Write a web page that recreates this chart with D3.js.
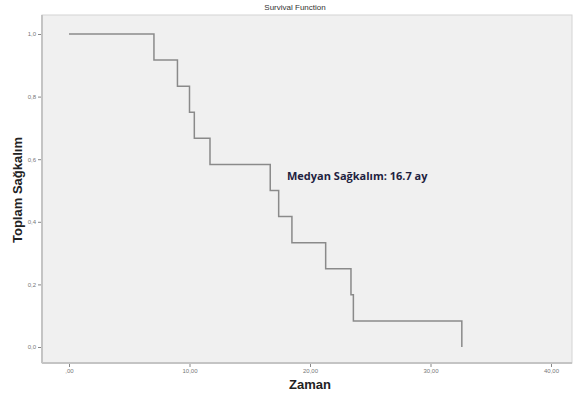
<!DOCTYPE html>
<html>
<head>
<meta charset="utf-8">
<script src="https://cdn.jsdelivr.net/npm/d3@7"></script>
<style>
  body { margin: 0; background: white; }
</style>
</head>
<body>
<svg id="chart"></svg>
<script>
// Kaplan-Meier steps
const eventTimes = [7.05, 9.0, 10.0, 10.4, 11.7, 16.7, 17.4, 18.5, 21.3, 23.4, 23.6, 32.6];
const survival = [0.917, 0.833, 0.75, 0.667, 0.583, 0.5, 0.417, 0.333, 0.25, 0.167, 0.083, 0.0];
const xTicks = [0, 10, 20, 30, 40];
const xTickLabels = [",00", "10,00", "20,00", "30,00", "40,00"];
const yTicks = [0, 0.2, 0.4, 0.6, 0.8, 1.0];
const yTickLabels = ["0,0", "0,2", "0,4", "0,6", "0,8", "1,0"];

const W = 576, H = 396;
const frame = {left: 42, top: 15, right: 572, bottom: 363};

const svg = d3.select("#chart").attr("width", W).attr("height", H);

const x = d3.scaleLinear().domain([0, 40]).range([69, 551]);
const y = d3.scaleLinear().domain([0, 1]).range([347, 34]);

// Plot background
svg.append("rect")
  .attr("x", frame.left).attr("y", frame.top)
  .attr("width", frame.right - frame.left)
  .attr("height", frame.bottom - frame.top)
  .attr("fill", "#f0f0f0")
  .attr("stroke", "#d4d4d4")
  .attr("stroke-width", 1);

// Darker left and bottom axis lines
svg.append("line")
  .attr("x1", frame.left).attr("x2", frame.left)
  .attr("y1", frame.top).attr("y2", frame.bottom)
  .attr("stroke", "#c4c4c4").attr("stroke-width", 2);
svg.append("line")
  .attr("x1", frame.left).attr("x2", frame.right)
  .attr("y1", frame.bottom).attr("y2", frame.bottom)
  .attr("stroke", "#c4c4c4").attr("stroke-width", 2);

// X axis
const xAxis = svg.append("g")
  .attr("transform", `translate(0,${frame.bottom + 1})`)
  .call(d3.axisBottom(x).tickValues(xTicks)
    .tickFormat((d, i) => xTickLabels[i]).tickSize(3).tickPadding(2));
xAxis.select(".domain").remove();
xAxis.selectAll("line").attr("stroke", "#888");
xAxis.selectAll("text")
  .attr("fill", "#777")
  .style("font-family", "Arial, sans-serif")
  .style("font-size", "6px");

// Y axis
const yAxis = svg.append("g")
  .attr("transform", `translate(${frame.left - 1},0)`)
  .call(d3.axisLeft(y).tickValues(yTicks)
    .tickFormat((d, i) => yTickLabels[i]).tickSize(3).tickPadding(2));
yAxis.select(".domain").remove();
yAxis.selectAll("line").attr("stroke", "#888");
yAxis.selectAll("text")
  .attr("fill", "#777")
  .style("font-family", "Arial, sans-serif")
  .style("font-size", "6px");

// Build step points
const pts = [[0, 1]];
let prev = 1;
eventTimes.forEach((t, i) => {
  pts.push([t, prev]);
  pts.push([t, survival[i]]);
  prev = survival[i];
});

const line = d3.line()
  .x(d => x(d[0]))
  .y(d => y(d[1]));

svg.append("path")
  .datum(pts)
  .attr("fill", "none")
  .attr("stroke", "#8a8a8a")
  .attr("stroke-width", 1.5)
  .attr("d", line);

// Title
svg.append("text")
  .attr("x", 295).attr("y", 10)
  .attr("text-anchor", "middle")
  .attr("fill", "#333")
  .style("font-family", "Arial, sans-serif")
  .style("font-size", "8px")
  .text("Survival Function");

// Axis labels
svg.append("text")
  .attr("x", 310).attr("y", 389)
  .attr("text-anchor", "middle")
  .attr("fill", "#222")
  .style("font-family", "Arial, sans-serif")
  .style("font-size", "13px")
  .style("font-weight", "bold")
  .text("Zaman");

svg.append("text")
  .attr("transform", "translate(22,190) rotate(-90)")
  .attr("text-anchor", "middle")
  .attr("fill", "#222")
  .style("font-family", "Arial, sans-serif")
  .style("font-size", "13px")
  .style("font-weight", "bold")
  .text("Toplam Sağkalım");

// Median annotation
svg.append("text")
  .attr("x", 287).attr("y", 180)
  .attr("fill", "#1e2240")
  .style("font-family", "'Open Sans', sans-serif")
  .style("font-size", "11px")
  .style("font-weight", "bold")
  .text("Medyan Sağkalım: 16.7 ay");
</script>
</body>
</html>
